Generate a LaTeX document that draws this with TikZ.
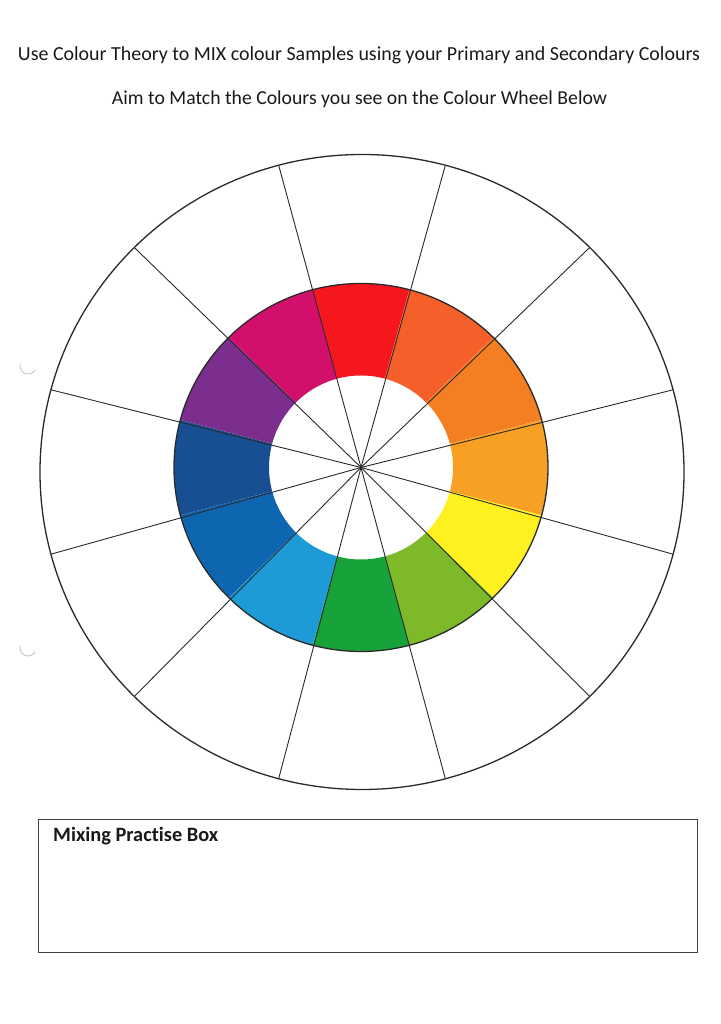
\documentclass[tikz,border=0pt]{standalone}
\usepackage{fontspec}
\setmainfont[Ligatures={NoCommon}]{Carlito}
\usepackage{graphicx}
\usetikzlibrary{calc}
\definecolor{cRed}{HTML}{F5161E}
\definecolor{cRedOrange}{HTML}{F5602A}
\definecolor{cOrange}{HTML}{F47F22}
\definecolor{cYellowOrange}{HTML}{F8A023}
\definecolor{cYellow}{HTML}{FFF020}
\definecolor{cYellowGreen}{HTML}{7EB92A}
\definecolor{cGreen}{HTML}{18A23A}
\definecolor{cCyan}{HTML}{1D9BD6}
\definecolor{cBlue}{HTML}{0F66B0}
\definecolor{cDarkBlue}{HTML}{184F92}
\definecolor{cViolet}{HTML}{7B2E8D}
\definecolor{cMagenta}{HTML}{D2106C}
\definecolor{inkline}{HTML}{2A2A2A}
\tikzset{
  titletext/.style={inner sep=0pt, text=black!90},
  wheelline/.style={draw=inkline, line width=0.9pt},
  rimline/.style={draw=inkline, line width=1.3pt},
  boxline/.style={draw=black!75, line width=1.4pt},
  punchmark/.style={draw=black!25, line width=0.8pt}
}
\begin{document}
\begin{tikzpicture}[x=1pt,y=1pt]
\useasboundingbox[fill=white] (0,0) rectangle (720,1024);
% titles
\node[titletext] (t1) at (359,969) {\resizebox{682pt}{!}{Use Colour Theory to MIX colour Samples using your Primary and Secondary Colours}};
\node[titletext] (t2) at (359.5,925) {\resizebox{495pt}{!}{Aim to Match the Colours you see on the Colour Wheel Below}};
% centres
\coordinate (c) at (361,556.5);
\coordinate (oc) at (362,552);
% coloured ring
\foreach \a/\col in {90/cRed,60/cRedOrange,30/cOrange,0/cYellowOrange,-30/cYellow,-60/cYellowGreen,-90/cGreen,-120/cCyan,-150/cBlue,-180/cDarkBlue,150/cViolet,120/cMagenta}{
  \fill[\col, shift={(c)}] ({\a-15}:92 and 92) arc[start angle={\a-15}, end angle={\a+15}, x radius=92, y radius=92]
     -- ({\a+15}:187 and 184) arc[start angle={\a+15}, end angle={\a-15}, x radius=187, y radius=184] -- cycle;
}
\draw[rimline] (c) ellipse[x radius=187, y radius=184];
% radial lines
\foreach \a in {15,45,...,345}{
  \draw[wheelline] (c) -- ($(oc)+(\a:322 and 317.5)$);
}
% outer circle
\draw[rimline] (oc) ellipse[x radius=322, y radius=317.5];
% punch marks
\draw[punchmark] (28,658) ++(165:8) arc[start angle=165, end angle=330, radius=8];
\draw[punchmark] (28,376) ++(165:8) arc[start angle=165, end angle=330, radius=8];
% mixing box
\node[boxline, minimum width=659pt, minimum height=133pt, inner sep=0pt, anchor=south west] (box) at (38,71) {};
\node[titletext, anchor=base west] (boxlabel) at (53,182) {\resizebox{165pt}{!}{\bfseries Mixing Practise Box}};
\end{tikzpicture}
\end{document}
